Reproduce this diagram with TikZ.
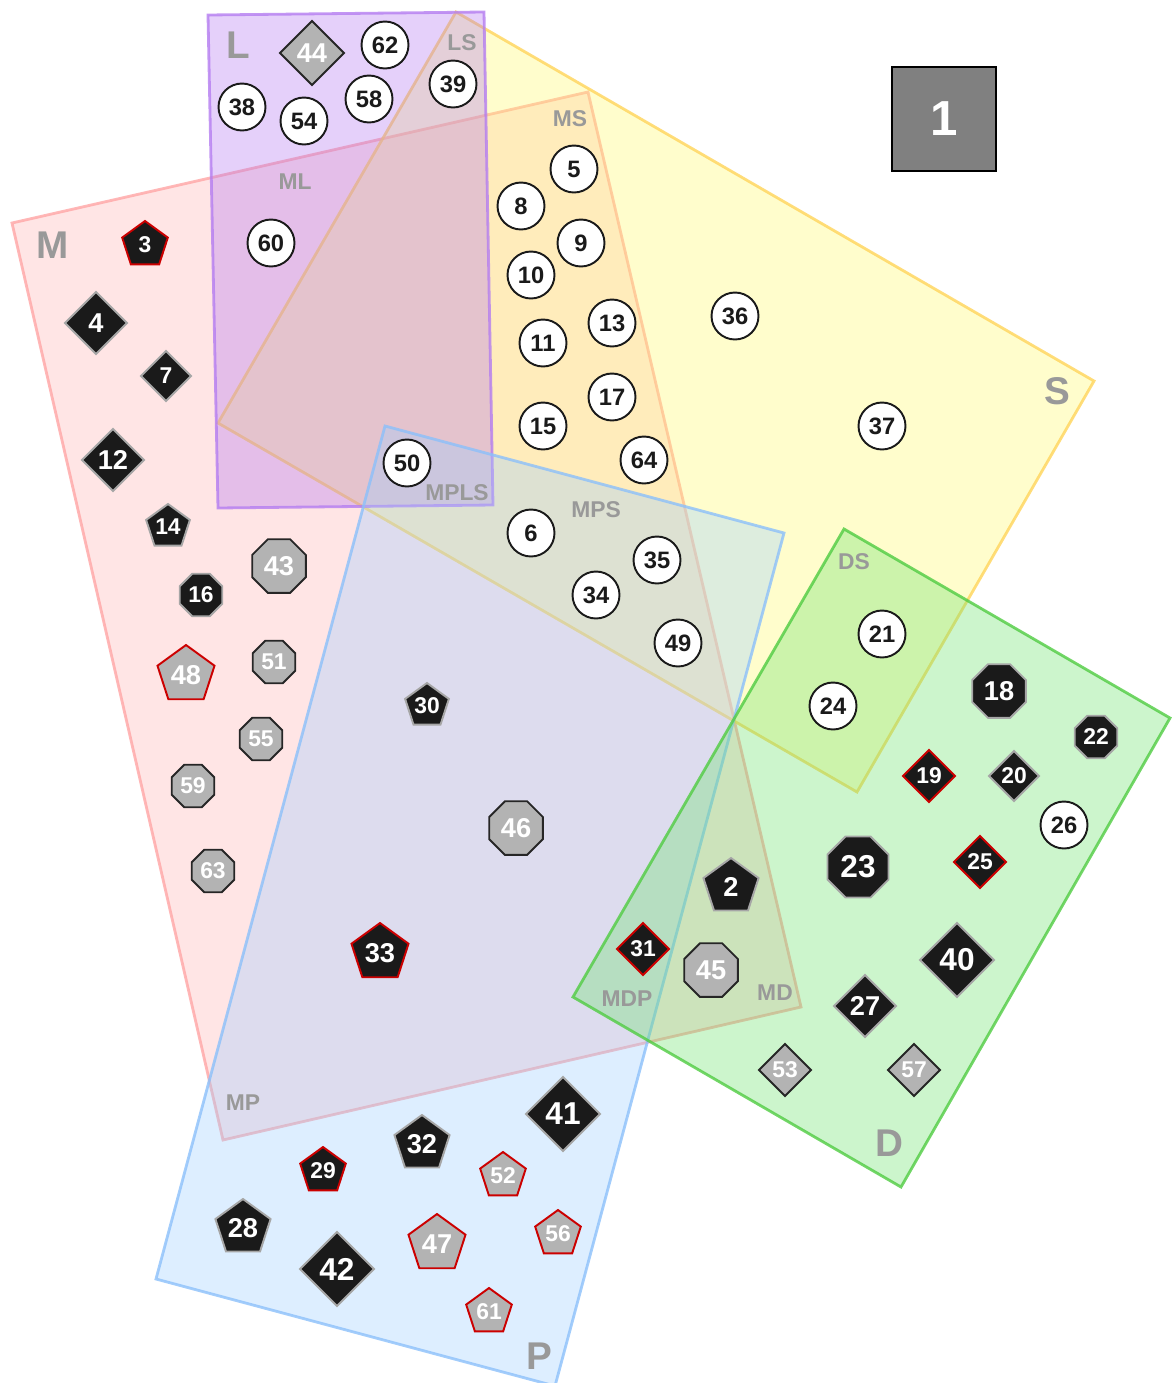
\documentclass[tikz,border=0pt]{standalone}
\usepackage{fontspec}
\setmainfont{Liberation Sans}
\usepackage{xcolor}
\usepackage{tikz}
\usetikzlibrary{shapes.geometric}
\definecolor{VennL}{RGB}{180,120,240}
\definecolor{VennLLine}{RGB}{180,125,240}
\definecolor{VennS}{RGB}{255,250,110}
\definecolor{VennSLine}{RGB}{255,212,90}
\definecolor{VennM}{RGB}{255,180,180}
\definecolor{VennMLine}{RGB}{255,165,165}
\definecolor{VennP}{RGB}{158,206,255}
\definecolor{VennPLine}{RGB}{140,192,250}
\definecolor{VennD}{RGB}{109,226,109}
\definecolor{VennDLine}{RGB}{80,204,66}
\definecolor{VennText}{HTML}{999999}
\definecolor{ItemBlack}{HTML}{1A1A1A}
\definecolor{ItemEdge}{HTML}{A6A6A6}
\definecolor{ItemGrey}{HTML}{B3B3B3}
\definecolor{ItemDark}{HTML}{262626}
\definecolor{ItemRed}{HTML}{CC0000}
\definecolor{BoxGrey}{HTML}{808080}

\tikzset{
  venn/.style={line width=1.6pt, fill opacity=0.35, draw opacity=0.8},
  vlab/.style={text=VennText, font=\bfseries\fontsize{13}{13}\selectfont, inner sep=0pt},
  vbig/.style={text=VennText, font=\bfseries\fontsize{22}{22}\selectfont, inner sep=0pt},
  item/.style={inner sep=0pt, outer sep=0pt, line width=1.1pt},
  circ/.style={item, circle, draw=ItemBlack, fill=white, minimum size=9.4mm},
  pent/.style={item, regular polygon, regular polygon sides=5, minimum size=#1*0.4mm},
  oct/.style={item, regular polygon, regular polygon sides=8, minimum size=#1*0.4mm},
  dmd/.style={item, diamond, minimum size=#1*0.4mm},
  blk/.style={fill=ItemBlack, draw=ItemEdge},
  blkred/.style={fill=ItemBlack, draw=ItemRed},
  gry/.style={fill=ItemGrey, draw=ItemDark},
  gryred/.style={fill=ItemGrey, draw=ItemRed},
  nb/.style={label={[text=ItemBlack, font=\bfseries\fontsize{13.5}{13.5}\selectfont]center:#1}},
  ns/.style={label={[text=white, font=\bfseries\fontsize{13}{13}\selectfont]center:#1}},
  nm/.style={label={[text=white, font=\bfseries\fontsize{15.5}{15.5}\selectfont]center:#1}},
  nl/.style={label={[text=white, font=\bfseries\fontsize{18}{18}\selectfont]center:#1}},
}

\begin{document}
\begin{tikzpicture}[x=0.02cm,y=-0.02cm]
\useasboundingbox (0,0) rectangle (1171,1383);
\draw[venn, draw=VennMLine, fill=VennM] (12,223) -- (588,92) -- (801,1007) -- (223,1140) -- cycle;
\draw[venn, draw=VennSLine, fill=VennS] (456,12) -- (1094,381) -- (857,792) -- (218,423) -- cycle;
\draw[venn, draw=VennLLine, fill=VennL] (208,15) -- (484,12) -- (493,505) -- (218,508) -- cycle;
\draw[venn, draw=VennPLine, fill=VennP] (385,426) -- (784,533) -- (555,1386) -- (156,1279) -- cycle;
\draw[venn, draw=VennDLine, fill=VennD] (844,529) -- (1170,718) -- (901,1187) -- (573,997) -- cycle;

\node[vbig] (labL) at (238,45) {L};
\node[vbig] (labM) at (53,245) {M};
\node[vbig] (labS) at (1057,391) {S};
\node[vbig] (labD) at (889,1143) {D};
\node[vbig] (labP) at (539,1356) {P};
\node[vlab] (labLS) at (462,43) {LS};
\node[vlab] (labML) at (295,182) {ML};
\node[vlab] (labMS) at (570,119) {MS};
\node[vlab] (labMPLS) at (457,493) {MPLS};
\node[vlab] (labMPS) at (596,510) {MPS};
\node[vlab] (labDS) at (854,562) {DS};
\node[vlab] (labMDP) at (627,999) {MDP};
\node[vlab] (labMD) at (775,993) {MD};
\node[vlab] (labMP) at (243,1103) {MP};

\node[item, draw=black, fill=BoxGrey, minimum size=20.8mm, text=white, font=\bfseries\fontsize{28}{28}\selectfont] (box1) at (944,119) {1};

\node[circ, nb=62] (n62) at (385,45) {};
\node[circ, nb=38] (n38) at (242,107) {};
\node[circ, nb=54] (n54) at (304,121) {};
\node[circ, nb=58] (n58) at (369,99) {};
\node[circ, nb=39] (n39) at (453,84) {};
\node[circ, nb=60] (n60) at (271,243) {};
\node[circ, nb=5] (n5) at (574,169) {};
\node[circ, nb=8] (n8) at (521,206) {};
\node[circ, nb=9] (n9) at (581,243) {};
\node[circ, nb=10] (n10) at (531,275) {};
\node[circ, nb=13] (n13) at (612,323) {};
\node[circ, nb=11] (n11) at (543,343) {};
\node[circ, nb=17] (n17) at (612,397) {};
\node[circ, nb=15] (n15) at (543,426) {};
\node[circ, nb=64] (n64) at (644,460) {};
\node[circ, nb=36] (n36) at (735,316) {};
\node[circ, nb=37] (n37) at (882,426) {};
\node[circ, nb=50] (n50) at (407,463) {};
\node[circ, nb=6] (n6) at (531,533) {};
\node[circ, nb=35] (n35) at (657,560) {};
\node[circ, nb=34] (n34) at (596,595) {};
\node[circ, nb=49] (n49) at (678,643) {};
\node[circ, nb=21] (n21) at (882,634) {};
\node[circ, nb=24] (n24) at (833,706) {};
\node[circ, nb=26] (n26) at (1064,825) {};

\node[dmd=32, gry, nm=44] (n44) at (312,53) {};
\node[dmd=31, blk, nm=4] (n4) at (96,323) {};
\node[dmd=25, blk, ns=7] (n7) at (166,376) {};
\node[dmd=31, blk, nm=12] (n12) at (113,460) {};
\node[dmd=26, blkred, ns=19] (n19) at (929,776) {};
\node[dmd=25, blk, ns=20] (n20) at (1014,776) {};
\node[dmd=26, blkred, ns=25] (n25) at (980,862) {};
\node[dmd=26, blkred, ns=31] (n31) at (643,949) {};
\node[dmd=31, blk, nm=27] (n27) at (865,1006) {};
\node[dmd=37, blk, nl=40] (n40) at (957,960) {};
\node[dmd=37, blk, nl=41] (n41) at (563,1114) {};
\node[dmd=37, blk, nl=42] (n42) at (337,1269) {};
\node[dmd=26, gry, ns=53] (n53) at (785,1070) {};
\node[dmd=26, gry, ns=57] (n57) at (914,1070) {};

\node[pent=24, blkred, ns=3] (n3) at (145,245) {};
\node[pent=23, blk, ns=14] (n14) at (168,527) {};
\node[pent=30, gryred, nm=48] (n48) at (186,675) {};
\node[pent=23, blk, ns=30] (n30) at (427,706) {};
\node[pent=30, blkred, nm=33] (n33) at (380,953) {};
\node[pent=29, blk, nm=2] (n2) at (731,887) {};
\node[pent=29, blk, nm=28] (n28) at (243,1228) {};
\node[pent=24, blkred, ns=29] (n29) at (323,1171) {};
\node[pent=29, blk, nm=32] (n32) at (422,1144) {};
\node[pent=24, gryred, ns=52] (n52) at (503,1176) {};
\node[pent=30, gryred, nm=47] (n47) at (437,1244) {};
\node[pent=24, gryred, ns=56] (n56) at (558,1234) {};
\node[pent=24, gryred, ns=61] (n61) at (489,1312) {};

\node[oct=29, gry, nm=43] (n43) at (279,566) {};
\node[oct=23, blk, ns=16] (n16) at (201,595) {};
\node[oct=23, gry, ns=51] (n51) at (274,662) {};
\node[oct=23, gry, ns=55] (n55) at (261,739) {};
\node[oct=23, gry, ns=59] (n59) at (193,786) {};
\node[oct=23, gry, ns=63] (n63) at (213,871) {};
\node[oct=29, gry, nm=46] (n46) at (516,828) {};
\node[oct=29, gry, nm=45] (n45) at (711,970) {};
\node[oct=33, blk, nl=23] (n23) at (858,867) {};
\node[oct=29, blk, nm=18] (n18) at (999,691) {};
\node[oct=23, blk, ns=22] (n22) at (1096,737) {};
\end{tikzpicture}
\end{document}
